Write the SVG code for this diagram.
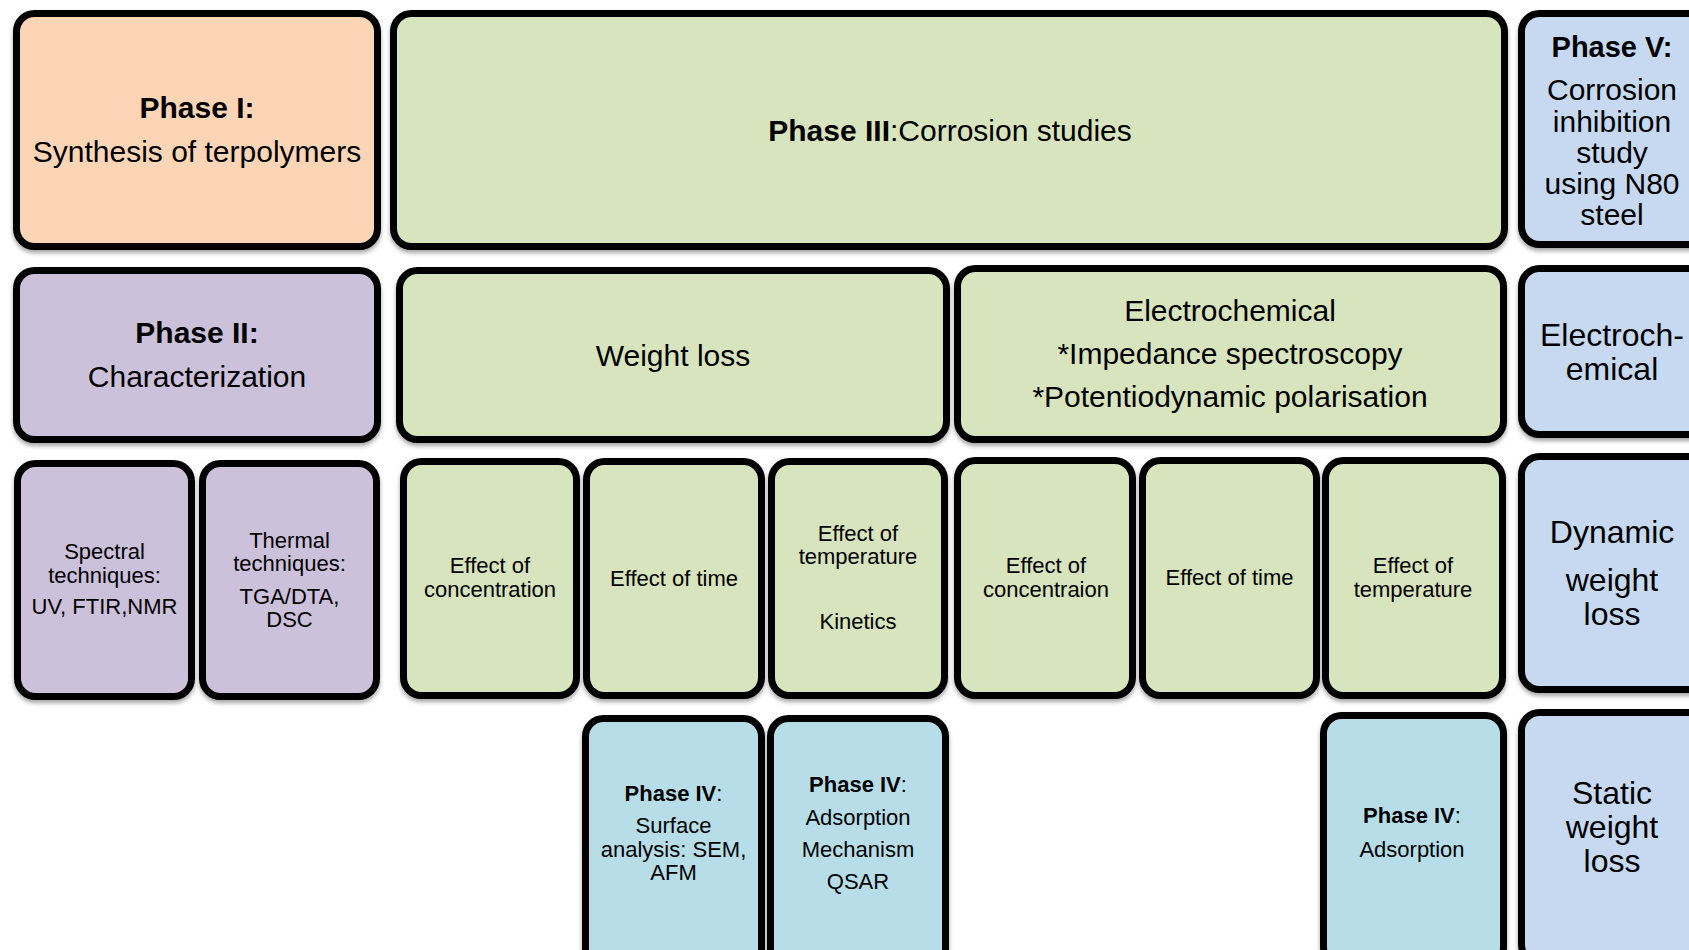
<svg xmlns="http://www.w3.org/2000/svg" width="1689" height="950" viewBox="0 0 1689 950">
<defs>
<filter id="sh" x="-5%" y="-5%" width="110%" height="115%">
<feDropShadow dx="0" dy="3" stdDeviation="2" flood-color="#000" flood-opacity="0.35"/>
</filter>
<style>
rect{stroke:#000;stroke-width:7;filter:url(#sh)}
.p1{fill:#FBD5B5}.g{fill:#D7E4BD}.pu{fill:#CCC1DA}.b4{fill:#B7DEE8}.b5{fill:#C6D9F1}
text{font-family:"Liberation Sans",Arial,sans-serif;fill:#000;text-anchor:middle}
.t30{font-size:30px}.t32{font-size:32px}.t22{font-size:22px}.t29{font-size:29px}
.b{font-weight:bold}
</style>
</defs>
<rect width="1689" height="950" fill="#fff" style="stroke:none;filter:none"/>
<g id="connectors"></g>
<g id="phase1"><rect class="p1" x="16.5" y="13.5" width="361" height="233" rx="18"/>
<text class="t30 b" x="197" y="118">Phase I:</text>
<text class="t30" x="197" y="162">Synthesis of terpolymers</text></g>
<g id="phase3"><rect class="g" x="393.5" y="13.5" width="1111" height="233" rx="18"/>
<text class="t30" x="950" y="141"><tspan class="b">Phase III</tspan>:Corrosion studies</text></g>
<g id="phase5"><rect class="b5" x="1521.5" y="13.5" width="200" height="231" rx="18"/>
<text class="t29 b" x="1612" y="57">Phase V:</text>
<text class="t30" x="1612" y="100">Corrosion</text>
<text class="t30" x="1612" y="132">inhibition</text>
<text class="t30" x="1612" y="163">study</text>
<text class="t30" x="1612" y="194">using N80</text>
<text class="t30" x="1612" y="225">steel</text></g>
<g id="phase2"><rect class="pu" x="16.5" y="270.5" width="361" height="169" rx="18"/>
<text class="t30 b" x="197" y="343">Phase II:</text>
<text class="t30" x="197" y="387">Characterization</text></g>
<g id="weightloss"><rect class="g" x="399.5" y="270.5" width="547" height="169" rx="18"/>
<text class="t30" x="673" y="366">Weight loss</text></g>
<g id="electrochemical"><rect class="g" x="957.5" y="268.5" width="546" height="171" rx="18"/>
<text class="t30" x="1230" y="321">Electrochemical</text>
<text class="t30" x="1230" y="364">*Impedance spectroscopy</text>
<text class="t30" x="1230" y="407">*Potentiodynamic polarisation</text></g>
<g id="electroch5"><rect class="b5" x="1521.5" y="268.5" width="200" height="166" rx="18"/>
<text class="t32" x="1612" y="346">Electroch-</text>
<text class="t32" x="1612" y="380">emical</text></g>
<g id="spectral"><rect class="pu" x="17.5" y="463.5" width="174" height="233" rx="18"/>
<text class="t22" x="104.5" y="559">Spectral</text>
<text class="t22" x="104.5" y="583">techniques:</text>
<text class="t22" x="104.5" y="614">UV, FTIR,NMR</text></g>
<g id="thermal"><rect class="pu" x="202.5" y="463.5" width="174" height="233" rx="18"/>
<text class="t22" x="289.5" y="548">Thermal</text>
<text class="t22" x="289.5" y="571">techniques:</text>
<text class="t22" x="289.5" y="604">TGA/DTA,</text>
<text class="t22" x="289.5" y="627">DSC</text></g>
<g id="wl-conc"><rect class="g" x="403.5" y="461.5" width="173" height="234" rx="18"/>
<text class="t22" x="490" y="573">Effect of</text>
<text class="t22" x="490" y="597">concentration</text></g>
<g id="wl-time"><rect class="g" x="586.5" y="461.5" width="175" height="234" rx="18"/>
<text class="t22" x="674" y="586">Effect of time</text></g>
<g id="wl-temp"><rect class="g" x="771.5" y="461.5" width="173" height="234" rx="18"/>
<text class="t22" x="858" y="541">Effect of</text>
<text class="t22" x="858" y="564">temperature</text>
<text class="t22" x="858" y="629">Kinetics</text></g>
<g id="ec-conc"><rect class="g" x="957.5" y="460.5" width="175" height="235" rx="18"/>
<text class="t22" x="1046" y="573">Effect of</text>
<text class="t22" x="1046" y="597">concentraion</text></g>
<g id="ec-time"><rect class="g" x="1142.5" y="460.5" width="174" height="235" rx="18"/>
<text class="t22" x="1229.5" y="585">Effect of time</text></g>
<g id="ec-temp"><rect class="g" x="1325.5" y="460.5" width="177" height="235" rx="18"/>
<text class="t22" x="1413" y="573">Effect of</text>
<text class="t22" x="1413" y="597">temperature</text></g>
<g id="dynamic"><rect class="b5" x="1521.5" y="456.5" width="200" height="233" rx="18"/>
<text class="t32" x="1612" y="543">Dynamic</text>
<text class="t32" x="1612" y="591">weight</text>
<text class="t32" x="1612" y="625">loss</text></g>
<g id="phase4-surface"><rect class="b4" x="585.5" y="718.5" width="176" height="250" rx="18"/>
<text class="t22" x="673.5" y="801"><tspan class="b">Phase IV</tspan>:</text>
<text class="t22" x="673.5" y="833">Surface</text>
<text class="t22" x="673.5" y="857">analysis: SEM,</text>
<text class="t22" x="673.5" y="880">AFM</text></g>
<g id="phase4-mech"><rect class="b4" x="770.5" y="718.5" width="175" height="250" rx="18"/>
<text class="t22" x="858" y="792"><tspan class="b">Phase IV</tspan>:</text>
<text class="t22" x="858" y="825">Adsorption</text>
<text class="t22" x="858" y="857">Mechanism</text>
<text class="t22" x="858" y="889">QSAR</text></g>
<g id="phase4-ads"><rect class="b4" x="1323.5" y="715.5" width="180" height="250" rx="18"/>
<text class="t22" x="1412" y="823"><tspan class="b">Phase IV</tspan>:</text>
<text class="t22" x="1412" y="857">Adsorption</text></g>
<g id="static"><rect class="b5" x="1521.5" y="712.5" width="200" height="250" rx="18"/>
<text class="t32" x="1612" y="804">Static</text>
<text class="t32" x="1612" y="838">weight</text>
<text class="t32" x="1612" y="872">loss</text></g>
</svg>
